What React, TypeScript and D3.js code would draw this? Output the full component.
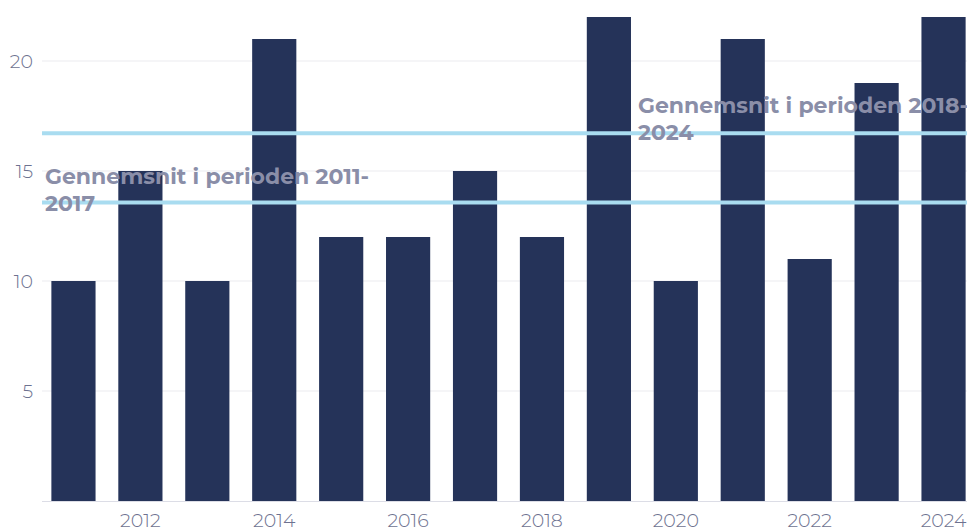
import React from 'react';
import * as d3 from 'd3';

const years = [2011, 2012, 2013, 2014, 2015, 2016, 2017, 2018, 2019, 2020, 2021, 2022, 2023, 2024];
const counts = [10, 15, 10, 21, 12, 12, 15, 12, 22, 10, 21, 11, 19, 22];
const yTicks = [5, 10, 15, 20];
const xTickYears = [2012, 2014, 2016, 2018, 2020, 2022, 2024];
const periods = [
  { from: 2011, to: 2017, lines: ['Gennemsnit i perioden 2011-', '2017'] },
  { from: 2018, to: 2024, lines: ['Gennemsnit i perioden 2018-', '2024'] },
];

const W = 967;
const H = 531;
const FONT = 'Montserrat, "Noto Sans", Lato, sans-serif';

const App: React.FC = () => {
  const x = d3.scaleBand<number>().domain(years).range([40, 977]).paddingInner(0.34).paddingOuter(0.17);
  const y = d3.scaleLinear().domain([0, 22]).range([501, 17]);

  const avg = (from: number, to: number) =>
    d3.mean(years.map((yr, i) => (yr >= from && yr <= to ? counts[i] : null)).filter((v) => v !== null) as number[]) || 0;

  return (
    <svg width={W} height={H} style={{ position: 'absolute', left: 0, top: 0, background: '#fff' }}>
      {/* grid */}
      {yTicks.map((t) => (
        <g key={t}>
          <line x1={42} x2={W} y1={y(t)} y2={y(t)} stroke="#ebebef" strokeWidth={1.2} />
          <text x={33} y={y(t) + 7} textAnchor="end" fontFamily={FONT} fontSize={19} fontWeight={300} fill="#6e7290">
            {t}
          </text>
        </g>
      ))}
      <line x1={42} x2={W} y1={y(0) + 0.5} y2={y(0) + 0.5} stroke="#dcdde6" strokeWidth={1.2} />

      {/* bars */}
      {years.map((yr, i) => (
        <rect key={yr} x={x(yr)} y={y(counts[i])} width={x.bandwidth()} height={y(0) - y(counts[i])} fill="#253359" />
      ))}

      {/* x labels */}
      {xTickYears.map((yr) => (
        <text
          key={yr}
          x={(x(yr) || 0) + x.bandwidth() / 2}
          y={527}
          textAnchor="middle"
          fontFamily={FONT}
          fontSize={19}
          fontWeight={300}
          fill="#6e7290"
        >
          {yr}
        </text>
      ))}

      {/* average lines */}
      {periods.map((p) => {
        const v = avg(p.from, p.to);
        return <line key={p.from} x1={42} x2={W} y1={y(v)} y2={y(v)} stroke="#a9dcf0" strokeWidth={4} />;
      })}
      {periods.map((p) => {
        const v = avg(p.from, p.to);
        const lx = p.from === 2011 ? 45 : (x(p.from + 1) || 0) + x.bandwidth() + 7;
        const ly = p.from === 2011 ? y(v) - 18 : y(v) - 20;
        return (
          <text key={p.from} x={lx} y={ly} fontFamily={FONT} fontSize={22} fontWeight={700} fill="#8a8ea8">
            {p.lines.map((l, i) => (
              <tspan key={i} x={lx} dy={i === 0 ? 0 : 27}>
                {l}
              </tspan>
            ))}
          </text>
        );
      })}
    </svg>
  );
};

export default App;
